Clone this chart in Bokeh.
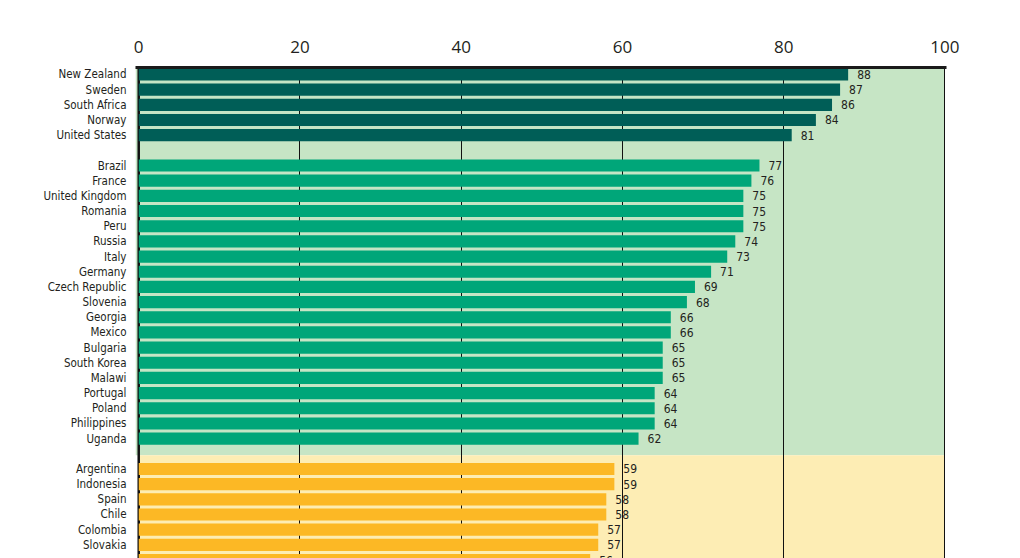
from bokeh.plotting import figure
from bokeh.models import Range1d, FixedTicker, BoxAnnotation, Span, ColumnDataSource
from bokeh.core.properties import value
from bokeh.embed import file_html
from bokeh.resources import INLINE

# ---- data ----
top_names = ["New Zealand", "Sweden", "South Africa", "Norway", "United States"]
top_values = [88, 87, 86, 84, 81]

mid_names = ["Brazil", "France", "United Kingdom", "Romania", "Peru", "Russia", "Italy",
             "Germany", "Czech Republic", "Slovenia", "Georgia", "Mexico", "Bulgaria",
             "South Korea", "Malawi", "Portugal", "Poland", "Philippines", "Uganda"]
mid_values = [77, 76, 75, 75, 75, 74, 73, 71, 69, 68, 66, 66, 65, 65, 65, 64, 64, 64, 62]

low_names = ["Argentina", "Indonesia", "Spain", "Chile", "Colombia", "Slovakia", "Bangladesh"]
low_values = [59, 59, 58, 58, 57, 57, 56]

x_ticks = [0, 20, 40, 60, 80, 100]

# ---- styling ----
colors = ["#005e57", "#00a679", "#fcb825"]
LABEL_FONT = "DejaVu Sans Condensed"
TICK_FONT = "Open Sans"

groups = [(top_names, top_values), (mid_names, mid_values), (low_names, low_values)]

# positions: consecutive rows, one empty row between groups
ys, names, vals, cols = [], [], [], []
group_bounds = []
pos = 0
for gi, (gn, gv) in enumerate(groups):
    start = pos
    for n, v in zip(gn, gv):
        ys.append(pos)
        names.append(n)
        vals.append(v)
        cols.append(colors[gi])
        pos += 1
    group_bounds.append((start, pos - 1))
    pos += 1

src = ColumnDataSource(dict(y=ys, v=vals, name=names, color=cols,
                            lab=[str(v) for v in vals]))

p = figure(width=1020, height=558, output_backend="svg", toolbar_location=None,
           x_axis_location="above",
           x_range=Range1d(-0.4, 100.2), y_range=Range1d(31.9, -0.46),
           min_border_left=135, min_border_right=74, min_border_top=67, min_border_bottom=0)
p.outline_line_color = None
p.background_fill_color = "white"

# background bands
boundary = (group_bounds[1][1] + group_bounds[2][0]) / 2 + 0.1
p.add_layout(BoxAnnotation(top=-5, bottom=boundary, left=-0.4, right=100,
                           fill_color="#c6e5c5", fill_alpha=1, line_color=None, level="image"))
p.add_layout(BoxAnnotation(top=boundary, bottom=40, left=0, right=100,
                           fill_color="#fdedb4", fill_alpha=1, line_color=None, level="image"))

# grid
p.xgrid.ticker = FixedTicker(ticks=x_ticks)
p.xgrid.grid_line_color = "#111111"
p.xgrid.grid_line_width = 1
p.xgrid.level = "underlay"
p.ygrid.grid_line_color = None
p.add_layout(Span(location=0, dimension="height", line_color="#111111", line_width=2.5,
                  level="underlay"))

# bars
p.hbar(y="y", right="v", left=0, height=0.8, color="color", line_color=None, source=src)

# value labels
p.text(x="v", y="y", text="lab", source=src, x_offset=9, text_baseline="middle",
       text_align="left", text_font=value(LABEL_FONT), text_font_size="12px",
       text_color="#231f20")

# x axis (top)
xa = p.xaxis[0]
xa.ticker = FixedTicker(ticks=x_ticks)
xa.axis_line_width = 3
xa.axis_line_color = "#1a1a1a"
xa.major_tick_line_color = None
xa.minor_tick_line_color = None
xa.major_label_standoff = 9
xa.major_label_text_font = TICK_FONT
xa.major_label_text_font_size = "17px"
xa.major_label_text_color = "#231f20"

# y axis (country names)
ya = p.yaxis[0]
ya.ticker = FixedTicker(ticks=ys)
ya.major_label_overrides = {y: n for y, n in zip(ys, names)}
ya.axis_line_color = None
ya.major_tick_line_color = None
ya.minor_tick_line_color = None
ya.major_label_standoff = 3
ya.major_label_text_font = LABEL_FONT
ya.major_label_text_font_size = "11.5px"
ya.major_label_text_color = "#231f20"

open("out.html", "w").write(file_html(p, INLINE))
